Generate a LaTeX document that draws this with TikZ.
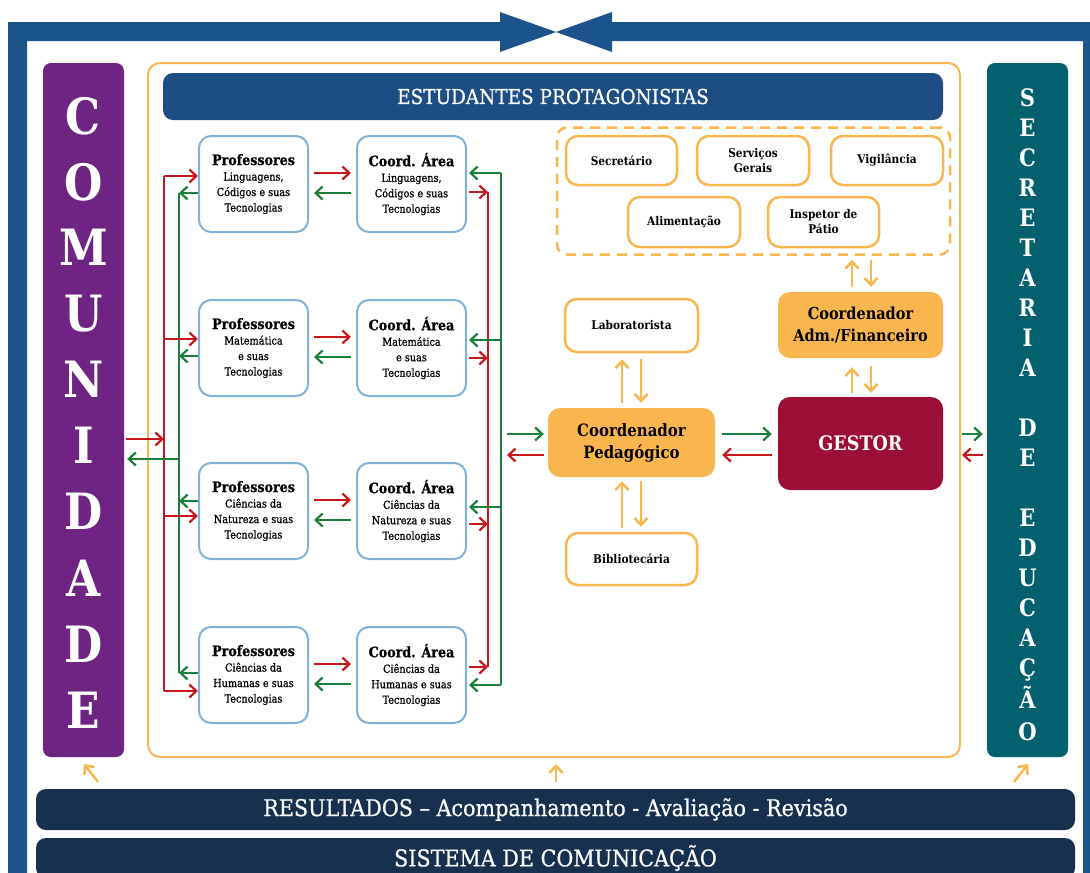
\documentclass[tikz,border=0pt]{standalone}
\usepackage{fontspec}
\setmainfont{DejaVu Serif}[FakeStretch=0.88]
\newfontfamily\barfont{DejaVu Serif}[FakeStretch=0.9, FakeBold=0.8]
\newfontfamily\semib{DejaVu Serif}[FakeStretch=0.88, FakeBold=0.8]
\usetikzlibrary{arrows.meta,calc}
\definecolor{frameblue}{HTML}{1A548A}
\definecolor{barblue}{HTML}{1C4E84}
\definecolor{purp}{HTML}{6F2382}
\definecolor{cteal}{HTML}{02606F}
\definecolor{corange}{HTML}{F9B64E}
\definecolor{crimson}{HTML}{9B0E36}
\definecolor{navy}{HTML}{16304F}
\definecolor{cred}{HTML}{C8161D}
\definecolor{cgreen}{HTML}{1A7F3A}
\definecolor{lblue}{HTML}{7FB2D9}
\newcommand\fsz[2]{\fontsize{#1}{#2}\selectfont}
\tikzset{
  sidebox/.style={rounded corners=8pt, minimum width=81pt, minimum height=694pt, inner sep=0pt},
  bigletter/.style={text=white, font=\fsz{50}{50}\bfseries, anchor=base},
  secletter/.style={text=white, font=\fsz{24}{24}\bfseries, anchor=base},
  pbox/.style={draw=lblue, line width=2pt, rounded corners=12pt, fill=white, minimum width=109pt, minimum height=96pt, align=center, inner sep=1pt, font=\semib\fsz{11}{15.5}},
  obox/.style={draw=corange, line width=2.5pt, rounded corners=12pt, fill=white, align=center, inner sep=1pt, font=\fsz{12}{15}\bfseries},
  fbox/.style={fill=corange, rounded corners=12pt, align=center, inner sep=1pt},
  barbox/.style={fill=navy, rounded corners=10pt, text=white, minimum width=1039pt, inner sep=0pt},
  rarr/.style={draw=cred, line width=2.2pt, -{Straight Barb[length=7pt,width=13pt]}},
  garr/.style={draw=cgreen, line width=2.2pt, -{Straight Barb[length=7pt,width=13pt]}},
  rline/.style={draw=cred, line width=2.2pt},
  gline/.style={draw=cgreen, line width=2.2pt},
  oarr/.style={draw=corange, line width=2.5pt, -{Straight Barb[length=7pt,width=13pt]}},
}
\begin{document}
\begin{tikzpicture}[x=1pt,y=-1pt]
\useasboundingbox (0,0) rectangle (1090,873);
% outer frame
\fill[frameblue] (500,22) -- (8,22) -- (8,873) -- (27,873) -- (27,41) -- (500,41) -- cycle;
\fill[frameblue] (612,22) -- (1090,22) -- (1090,873) -- (1083,873) -- (1083,41) -- (612,41) -- cycle;
\fill[frameblue] (500,12) -- (556,32) -- (500,52) -- cycle;
\fill[frameblue] (612,12) -- (556,32) -- (612,52) -- cycle;
% main container
\draw[corange, line width=2pt, rounded corners=12pt] (148,63) rectangle (960,757);
% side boxes
\node[sidebox, fill=purp] (com) at (83.5,410) {};
\node[sidebox, fill=cteal] (sec) at (1027.5,410) {};
\foreach \l/\yy [count=\i] in {C/134,O/200,M/265,U/331,N/397,I/463,D/529,A/596,D/662,E/728}
  \node[bigletter] (cl\i) at (83.5,\yy) {\l};
\foreach \l/\yy [count=\i] in {S/106,E/136,C/166,R/196,E/226,T/256,A/286,R/316,I/346,A/376,D/436,E/466,E/526,D/556,U/586,C/616,A/646,Ç/676,Ã/708,O/740}
  \node[secletter] (sl\i) at (1027.5,\yy) {\l};
% students bar
\node[fill=barblue, rounded corners=10pt, minimum width=780pt, minimum height=47pt, text=white, font=\barfont\fsz{20.5}{22}] (est) at (553,96.5) {ESTUDANTES PROTAGONISTAS};
% professor and coordinator boxes
\node[pbox] (p1) at (253.5,184) {{\fsz{14.4}{16}\bfseries Professores}\\Linguagens,\\Códigos e suas\\Tecnologias};
\node[pbox] (c1) at (411.5,184) {{\fsz{14.4}{16}\bfseries Coord. Área}\\Linguagens,\\Códigos e suas\\Tecnologias};
\node[pbox] (p2) at (253.5,348) {{\fsz{14.4}{16}\bfseries Professores}\\Matemática\\e suas\\Tecnologias};
\node[pbox] (c2) at (411.5,348) {{\fsz{14.4}{16}\bfseries Coord. Área}\\Matemática\\e suas\\Tecnologias};
\node[pbox] (p3) at (253.5,511) {{\fsz{14.4}{16}\bfseries Professores}\\Ciências da\\Natureza e suas\\Tecnologias};
\node[pbox] (c3) at (411.5,511) {{\fsz{14.4}{16}\bfseries Coord. Área}\\Ciências da\\Natureza e suas\\Tecnologias};
\node[pbox] (p4) at (253.5,675) {{\fsz{14.4}{16}\bfseries Professores}\\Ciências da\\Humanas e suas\\Tecnologias};
\node[pbox] (c4) at (411.5,675) {{\fsz{14.4}{16}\bfseries Coord. Área}\\Ciências da\\Humanas e suas\\Tecnologias};
% prof <-> coord arrows
\foreach \i/\yc in {1/184,2/348,3/511,4/675}{
  \coordinate (ra\i) at (0,\yc-11);
  \coordinate (ga\i) at (0,\yc+9);
  \draw[rarr, shorten <=5pt, shorten >=5pt] (p\i.east |- ra\i) -- (c\i.west |- ra\i);
  \draw[garr, shorten <=5pt, shorten >=5pt] (c\i.west |- ga\i) -- (p\i.east |- ga\i);
}
% left bus
\coordinate (lr1) at (164,176); \coordinate (lr2) at (164,339);
\coordinate (lr3) at (164,516); \coordinate (lr4) at (164,691);
\coordinate (lg1) at (179,193); \coordinate (lg2) at (179,356);
\coordinate (lg3) at (179,501); \coordinate (lg4) at (179,673);
\coordinate (lrc) at (164,439); \coordinate (lgc) at (179,459);
\draw[rline] (lr1) -- (lr4);
\draw[gline] (lg1) -- (lg4);
\foreach \i in {1,2,3,4}{
  \draw[rarr] (lr\i) -- (p\i.west |- lr\i);
  \draw[garr] (p\i.west |- lg\i) -- (lg\i);
}
\draw[rarr, shorten <=2pt] (com.east |- lrc) -- (lrc);
\draw[garr, shorten >=3pt] (lgc) -- (com.east |- lgc);
% right bus
\coordinate (rg1) at (501,173); \coordinate (rg2) at (501,340);
\coordinate (rg3) at (501,507); \coordinate (rg4) at (501,685);
\coordinate (rr1) at (488,192); \coordinate (rr2) at (488,358);
\coordinate (rr3) at (488,524); \coordinate (rr4) at (488,667);
\draw[rline] (rr1) -- (rr4);
\draw[gline] (rg1) -- (rg4);
\foreach \i in {1,2,3,4}{
  \draw[garr, shorten >=2pt] (rg\i) -- (c\i.east |- rg\i);
  \draw[rarr, shorten <=2pt] (c\i.east |- rr\i) -- (rr\i);
}
% staff dashed group
\node[draw=corange, dash pattern=on 10pt off 7pt, line width=2.5pt, rounded corners=10pt, minimum width=393pt, minimum height=127pt] (staff) at (753.5,191) {};
\node[obox, minimum width=111pt, minimum height=49pt] (secr) at (621.5,160.5) {Secretário};
\node[obox, minimum width=112pt, minimum height=49pt] (serv) at (753,160.5) {Serviços\\Gerais};
\node[obox, minimum width=112pt, minimum height=49pt] (vig) at (887,160.5) {Vigilância};
\node[obox, minimum width=112pt, minimum height=50pt] (alim) at (684,222) {Alimentação};
\node[obox, minimum width=111pt, minimum height=50pt] (insp) at (823.5,222) {Inspetor de\\Pátio};
% center column
\node[obox, minimum width=133pt, minimum height=53pt] (lab) at (631.5,325.5) {Laboratorista};
\node[obox, minimum width=131pt, minimum height=52pt] (bib) at (631.5,559) {Bibliotecária};
\node[fbox, minimum width=167pt, minimum height=69pt, font=\fsz{17}{22}\bfseries] (cp) at (631.5,442.5) {Coordenador\\Pedagógico};
\node[fbox, minimum width=165pt, minimum height=66pt, font=\fsz{16.5}{22}\bfseries] (adm) at (860.5,325) {Coordenador\\Adm./Financeiro};
\node[fill=crimson, rounded corners=12pt, minimum width=165pt, minimum height=93pt, text=white, font=\fsz{20}{22}\bfseries] (gest) at (860.5,443.5) {GESTOR};
% orange vertical arrows
\coordinate (xl1) at (622,0); \coordinate (xl2) at (641,0);
\coordinate (xa1) at (852,0); \coordinate (xa2) at (871,0);
\draw[oarr, shorten <=5pt, shorten >=6pt] (cp.north -| xl1) -- (lab.south -| xl1);
\draw[oarr, shorten <=6pt, shorten >=5pt] (lab.south -| xl2) -- (cp.north -| xl2);
\draw[oarr, shorten <=4pt, shorten >=4pt] (bib.north -| xl1) -- (cp.south -| xl1);
\draw[oarr, shorten <=4pt, shorten >=5pt] (cp.south -| xl2) -- (bib.north -| xl2);
\draw[oarr, shorten <=4pt, shorten >=9pt] (gest.north -| xa1) -- (adm.south -| xa1);
\draw[oarr, shorten <=8pt, shorten >=4pt] (adm.south -| xa2) -- (gest.north -| xa2);
\draw[oarr, shorten <=5pt, shorten >=4pt] (adm.north -| xa1) -- (staff.south -| xa1);
\draw[oarr, shorten <=4pt, shorten >=5pt] (staff.south -| xa2) -- (adm.north -| xa2);
% horizontal arrows around coordinator and manager
\coordinate (ya) at (0,434); \coordinate (yb) at (0,455);
\coordinate (cpl) at (507,0); \coordinate (sr) at (962,0);
\draw[garr, shorten >=4pt] (cpl |- ya) -- (cp.west |- ya);
\draw[rarr, shorten <=4pt] (cp.west |- yb) -- (cpl |- yb);
\draw[garr, shorten <=7pt, shorten >=6pt] (cp.east |- ya) -- (gest.west |- ya);
\draw[rarr, shorten <=6pt, shorten >=7pt] (gest.west |- yb) -- (cp.east |- yb);
\draw[garr, shorten >=4pt] (sr |- ya) -- (sec.west |- ya);
\draw[rarr, shorten <=4pt] (sec.west |- yb) -- (sr |- yb);
% bottom bars
\node[barbox, minimum height=41pt, font=\barfont\fsz{23}{24}] (res) at (555.5,809.5) {RESULTADOS – Acompanhamento - Avaliação - Revisão};
\node[barbox, minimum height=40pt, font=\barfont\fsz{23}{24}] (sis) at (555.5,858) {SISTEMA DE COMUNICAÇÃO};
% bottom orange arrows
\coordinate (b1) at (98,782); \coordinate (b2) at (556,782); \coordinate (b3) at (1014,782);
\draw[oarr] (b1) -- (84,764);
\draw[oarr] (b2) -- (556,764);
\draw[oarr] (b3) -- (1028,764);
\end{tikzpicture}
\end{document}
